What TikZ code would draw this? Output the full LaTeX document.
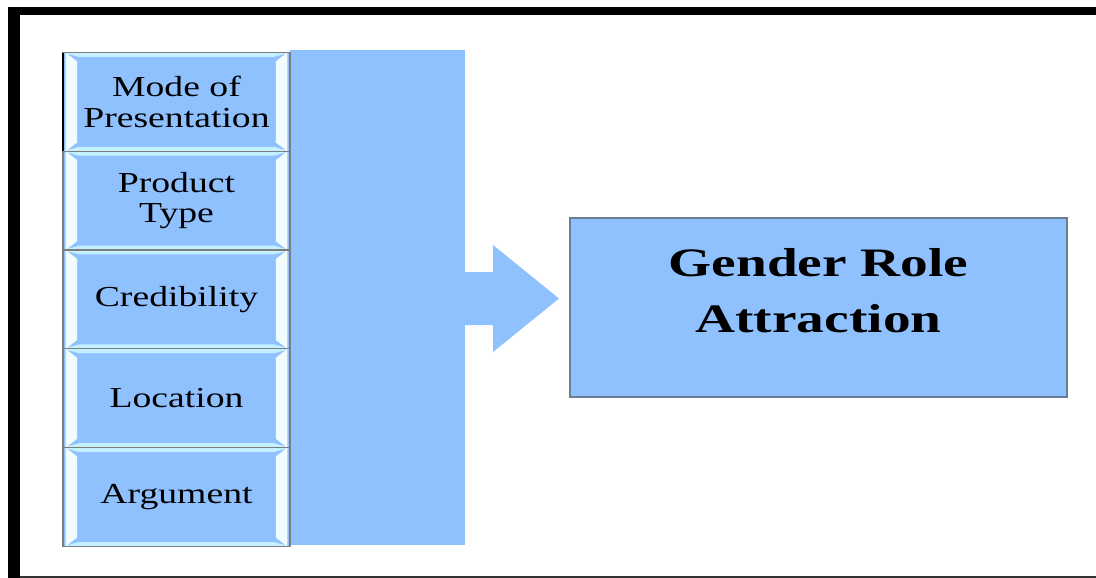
\documentclass[tikz,border=0pt]{standalone}
\usepackage{fontspec}
\setmainfont{Liberation Serif}
\newfontfamily\boxfont[FakeStretch=1.3]{Liberation Serif}
\newfontfamily\headfont[FakeStretch=1.37]{Liberation Serif}
\usetikzlibrary{positioning}

\definecolor{boxblue}{RGB}{143,193,255}
\definecolor{bevside}{RGB}{242,253,255}
\definecolor{bevtop}{RGB}{196,240,255}
\definecolor{edgegray}{RGB}{125,125,125}
\definecolor{targetedge}{RGB}{105,125,150}

\begin{document}
\begin{tikzpicture}[x=0.02cm,y=-0.02cm,
        factor/.style={rectangle,draw=edgegray,line width=0.7pt,fill=boxblue,
          minimum width=4.54cm,minimum height=1.976cm,inner sep=0pt,outer sep=0pt,align=center,
          font=\boxfont\fontsize{16.5}{17.5}\selectfont,
          path picture={
            % bevel: light strips top and bottom, pale strips left and right
            \fill[bevtop] (path picture bounding box.north west) -- (path picture bounding box.north east)
              -- ([xshift=-9pt,yshift=-2.5pt]path picture bounding box.north east)
              -- ([xshift=9pt,yshift=-2.5pt]path picture bounding box.north west) -- cycle;
            \fill[bevtop] (path picture bounding box.south west) -- (path picture bounding box.south east)
              -- ([xshift=-9pt,yshift=2.5pt]path picture bounding box.south east)
              -- ([xshift=9pt,yshift=2.5pt]path picture bounding box.south west) -- cycle;
            \fill[bevside] ([xshift=1.5pt]path picture bounding box.north west)
              -- ([xshift=8pt,yshift=-5pt]path picture bounding box.north west)
              -- ([xshift=8pt,yshift=5pt]path picture bounding box.south west)
              -- ([xshift=1.5pt]path picture bounding box.south west) -- cycle;
            \fill[bevside] ([xshift=-1.5pt]path picture bounding box.north east)
              -- ([xshift=-8pt,yshift=-5pt]path picture bounding box.north east)
              -- ([xshift=-8pt,yshift=5pt]path picture bounding box.south east)
              -- ([xshift=-1.5pt]path picture bounding box.south east) -- cycle;
          }},
        target/.style={rectangle,draw=targetedge,line width=0.7pt,fill=boxblue,
          minimum width=9.94cm,minimum height=3.58cm,inner sep=0pt},
        heading/.style={align=center,inner sep=0pt,
          font=\headfont\bfseries\fontsize{23}{32}\selectfont}]

  \useasboundingbox (0,0) rectangle (1096,578);

  % frame
  \fill (8,7) rectangle (1096,15);
  \fill (8,7) rectangle (20,578);
  \fill[black!80] (20,575.5) rectangle (1096,578);

  % bar and arrow behind the factors
  \fill[boxblue] (290,50) rectangle (465,545);
  \fill[boxblue] (464,272) -- (493,272) -- (493,245) -- (559,298.5)
    -- (493,352) -- (493,325) -- (464,325) -- cycle;

  \node[factor] (mode) at (176.5,101.9) {Mode of\\Presentation};
  \node[factor] (product) [below=0pt of mode] {Product\\Type};
  \node[factor] (cred) [below=0pt of product] {Credibility};
  \node[factor] (loc) [below=0pt of cred] {Location};
  \node[factor] (arg) [below=0pt of loc] {Argument};
  \draw[line width=0.8pt] (mode.south west) -- (mode.north west);

  \node[target] (gender) at (818.5,307.5) {};
  \node[heading] (gendertext) at (818.5,291) {Gender Role\\Attraction};
\end{tikzpicture}
\end{document}
